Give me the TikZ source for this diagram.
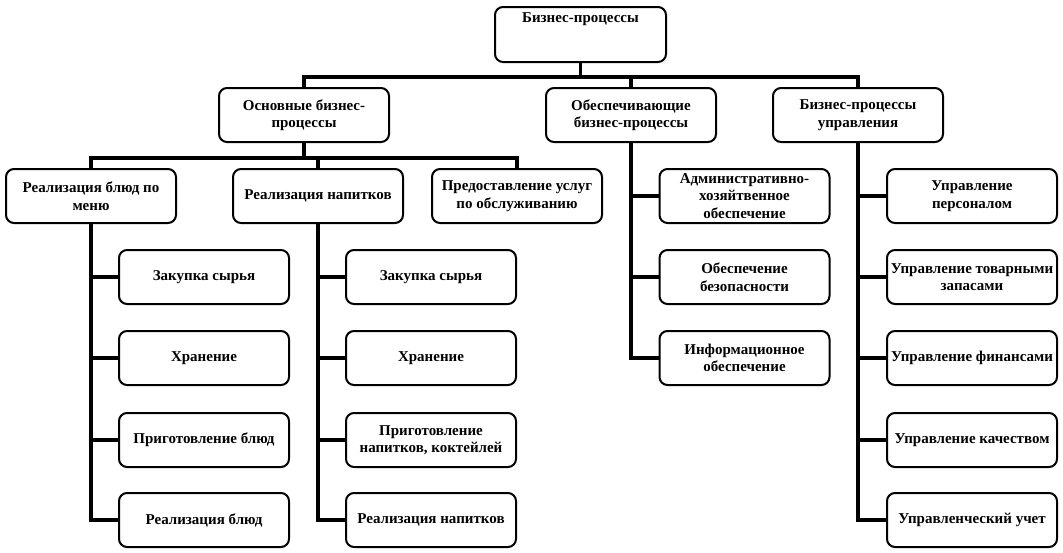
\documentclass[tikz,border=0pt]{standalone}
\usepackage{fontspec}
\setmainfont{Liberation Serif}
\begin{document}
\begin{tikzpicture}[x=1pt,y=-1pt,
  box/.style={draw,line width=2pt,rounded corners=8pt,minimum width=170pt,minimum height=54pt,
    align=center,inner sep=1pt,font=\fontsize{15}{17.5}\selectfont\bfseries},
  conn/.style={line width=3.4pt,line cap=rect}]
\useasboundingbox (0,0) rectangle (1063,552);
% top
\node[box,minimum width=171pt,text height=10.5pt,text depth=34pt,inner ysep=5.25pt] (top) at (580.5,34.5) {Бизнес-процессы};
% level 2
\node[box] (osn) at (304,115) {Основные бизнес-\\процессы};
\node[box] (obes) at (631,115) {Обеспечивающие\\бизнес-процессы};
\node[box] (upr) at (858,115) {Бизнес-процессы\\управления};
% level 3
\node[box] (rb) at (91,196) {Реализация блюд по\\меню};
\node[box] (rn) at (318,196) {Реализация напитков};
\node[box] (pu) at (517,196) {Предоставление услуг\\по обслуживанию};
\node[box] (ad) at (744.5,196) {Административно-\\хозяйтвенное\\обеспечение};
\node[box] (up) at (972,196) {Управление\\персоналом};
% left column
\node[box] (a1) at (204,277) {Закупка сырья};
\node[box] (a2) at (204,358) {Хранение};
\node[box] (a3) at (204,440) {Приготовление блюд};
\node[box] (a4) at (204,520) {Реализация блюд};
% second column
\node[box] (b1) at (431,277) {Закупка сырья};
\node[box] (b2) at (431,358) {Хранение};
\node[box] (b3) at (431,440) {Приготовление\\напитков, коктейлей};
\node[box] (b4) at (431,520) {Реализация напитков};
% support column
\node[box] (s1) at (744.5,277) {Обеспечение\\безопасности};
\node[box] (s2) at (744.5,358) {Информационное\\обеспечение};
% management column
\node[box] (m1) at (972,277) {Управление товарными\\запасами};
\node[box] (m2) at (972,358) {Управление финансами};
\node[box] (m3) at (972,440) {Управление качеством};
\node[box] (m4) at (972,520) {Управленческий учет};
% buses
\coordinate (bus1) at (580.5,77);
\coordinate (bus2) at (304,158);
\draw[conn] (top.south) -- (top.south |- bus1);
\draw[conn] (osn.north) |- (upr.north |- bus1) -- (upr.north);
\draw[conn] (obes.north) -- (obes.north |- bus1);
\draw[conn] (osn.south) -- (osn.south |- bus2);
\draw[conn] (rb.north) |- (pu.north |- bus2) -- (pu.north);
\draw[conn] (rn.north) -- (rn.north |- bus2);
% left column
\draw[conn] (rb.south) |- (a4.west);
\draw[conn] (a1.west) -- (a1.west -| rb.south);
\draw[conn] (a2.west) -- (a2.west -| rb.south);
\draw[conn] (a3.west) -- (a3.west -| rb.south);
% second column
\draw[conn] (rn.south) |- (b4.west);
\draw[conn] (b1.west) -- (b1.west -| rn.south);
\draw[conn] (b2.west) -- (b2.west -| rn.south);
\draw[conn] (b3.west) -- (b3.west -| rn.south);
% support
\draw[conn] (obes.south) |- (s2.west);
\draw[conn] (ad.west) -- (ad.west -| obes.south);
\draw[conn] (s1.west) -- (s1.west -| obes.south);
% management
\draw[conn] (upr.south) |- (m4.west);
\draw[conn] (up.west) -- (up.west -| upr.south);
\draw[conn] (m1.west) -- (m1.west -| upr.south);
\draw[conn] (m2.west) -- (m2.west -| upr.south);
\draw[conn] (m3.west) -- (m3.west -| upr.south);
\end{tikzpicture}
\end{document}
